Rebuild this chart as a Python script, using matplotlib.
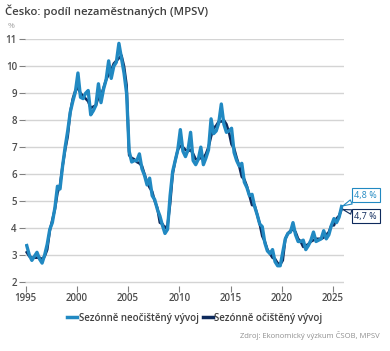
import numpy as np
import matplotlib.pyplot as plt

# quarterly readings (Feb, May, Aug, Nov), 1995-2025
nsa = [3.35, 3.0, 2.8, 2.95,
       3.1, 2.85, 2.7, 3.0,
       3.4, 3.95, 4.2, 4.75,
       5.55, 5.45, 6.3, 7.0,
       7.6, 8.3, 8.7, 9.05,
       9.75, 8.85, 8.8, 9.0,
       9.1, 8.2, 8.35, 8.55,
       9.35, 8.65, 9.15, 9.5,
       10.2, 9.55, 10.0, 10.15,
       10.85, 10.3, 9.75, 9.0,
       6.85, 6.45, 6.5, 6.5,
       6.75, 6.2, 5.95, 5.6,
       5.85, 5.2, 5.05, 4.7,
       4.45, 4.1, 3.8, 3.95,
       5.2, 6.1, 6.5, 6.9,
       7.65, 6.85, 6.65, 6.9,
       7.55, 6.5, 6.35, 6.55,
       7.0, 6.35, 6.6, 6.9,
       8.05, 7.5, 7.6, 7.9,
       8.6, 7.85, 7.55, 7.6,
       7.7, 6.8, 6.5, 6.3,
       6.4, 5.7, 5.5, 5.2,
       5.25, 4.8, 4.5, 4.15,
       4.05, 3.45, 3.15, 3.05,
       3.2, 2.75, 2.6, 2.6,
       3.1, 3.6, 3.8, 3.85,
       4.2, 3.75, 3.5, 3.5,
       3.55, 3.2, 3.35, 3.55,
       3.85, 3.5, 3.55, 3.6,
       3.9, 3.6, 3.75, 4.1,
       4.35, 4.2, 4.4, 4.8]
sa = [3.1, 2.95, 2.9, 2.9,
      2.9, 2.9, 2.85, 2.95,
      3.2, 3.9, 4.3, 4.7,
      5.3, 5.6, 6.3, 6.9,
      7.4, 8.3, 8.8, 9.1,
      9.2, 9.0, 8.9, 8.8,
      8.7, 8.45, 8.5, 8.55,
      8.85, 8.9, 9.2, 9.5,
      9.7, 9.85, 10.1, 10.2,
      10.3, 10.4, 10.0, 9.3,
      6.7, 6.6, 6.55, 6.45,
      6.4, 6.3, 6.0, 5.7,
      5.5, 5.35, 5.0, 4.75,
      4.2, 4.15, 4.0, 4.1,
      4.9, 6.0, 6.5, 6.9,
      7.05, 7.0, 6.9, 6.85,
      6.9, 6.75, 6.55, 6.55,
      6.6, 6.6, 6.75, 7.0,
      7.4, 7.7, 7.8, 7.95,
      7.95, 8.0, 7.85, 7.55,
      7.1, 6.95, 6.6, 6.3,
      5.9, 5.8, 5.55, 5.2,
      4.85, 4.85, 4.5, 4.15,
      3.7, 3.5, 3.2, 3.05,
      2.9, 2.85, 2.7, 2.65,
      2.8, 3.6, 3.8, 3.9,
      3.95, 3.85, 3.6, 3.5,
      3.3, 3.35, 3.4, 3.5,
      3.55, 3.6, 3.6, 3.6,
      3.65, 3.75, 3.85, 4.1,
      4.1, 4.35, 4.45, 4.7]
t = 1995.1 + 0.25 * np.arange(len(nsa))

labels = ["Sezónně neočištěný vývoj", "Sezónně očištěný vývoj"]
end_labels = ["4,8 %", "4,7 %"]
light = '#2189c2'
dark = '#0e2a5c'
txt = '#4d4d4d'

plt.rcParams['font.family'] = ['Open Sans', 'DejaVu Sans']

fig = plt.figure(figsize=(3.9, 3.51), dpi=100)
ax = fig.add_axes([25.2 / 390, 1 - 286 / 351, 319 / 390, (286 - 39.3) / 351])

l_sa, = ax.plot(t, sa, color=dark, lw=1.9, zorder=3)
l_nsa, = ax.plot(t, nsa, color=light, lw=2.4, zorder=4)

ax.set_xlim(1994.95, 2026.1)
ax.set_ylim(1.85, 11)
ax.set_xticks(range(1995, 2026, 5))
ax.set_yticks(range(2, 12))
ax.grid(axis='y', color='#d4d4d4', lw=1)
ax.set_axisbelow(True)
for s in ax.spines.values():
    s.set_visible(False)
ax.tick_params(axis='y', length=4, width=0.8, color='#808080', pad=2,
               labelsize=7, labelcolor=txt)
ax.tick_params(axis='x', length=4, width=0.8, color='#808080', pad=1,
               labelsize=7, labelcolor=txt)
for lab in ax.get_xticklabels() + ax.get_yticklabels():
    lab.set_fontweight('semibold')

# end-of-series callouts
ax.annotate(end_labels[0], xy=(t[-1], nsa[-1]), xytext=(2028.2, 5.22),
            ha='center', va='center', fontsize=6.5, color=light,
            annotation_clip=False,
            bbox=dict(boxstyle='square,pad=0.3', fc='white', ec=light, lw=0.8),
            arrowprops=dict(arrowstyle='wedge,tail_width=0.5', fc='white',
                            ec=light, lw=0.8, shrinkA=0, shrinkB=1))
ax.annotate(end_labels[1], xy=(t[-1], sa[-1]), xytext=(2028.2, 4.44),
            ha='center', va='center', fontsize=6.5, color=dark,
            annotation_clip=False,
            bbox=dict(boxstyle='square,pad=0.3', fc='white', ec=dark, lw=0.8),
            arrowprops=dict(arrowstyle='wedge,tail_width=0.5', fc='white',
                            ec=dark, lw=0.8, shrinkA=0, shrinkB=1))

fig.text(5 / 390, 1 - 11 / 351, "Česko: podíl nezaměstnaných (MPSV)",
         fontsize=8.2, fontweight='semibold', color='#404040', va='center')
fig.text(8 / 390, 1 - 26 / 351, "%", fontsize=6, color='#a0a0a0', va='center')

leg = fig.legend([l_nsa, l_sa], labels, loc='center',
                 bbox_to_anchor=(195 / 390, 1 - 318 / 351), ncol=2,
                 frameon=False, handlelength=1.0, handletextpad=0.2,
                 columnspacing=0.4, labelcolor='#404040',
                 prop={'weight': 'semibold', 'size': 7})
for h in leg.legend_handles:
    h.set_linewidth(2.5)

fig.text(380 / 390, 1 - 335 / 351, "Zdroj: Ekonomický výzkum ČSOB, MPSV",
         fontsize=5.5, color='#909090', ha='right', va='center')

fig.savefig('out.png', dpi=100)
